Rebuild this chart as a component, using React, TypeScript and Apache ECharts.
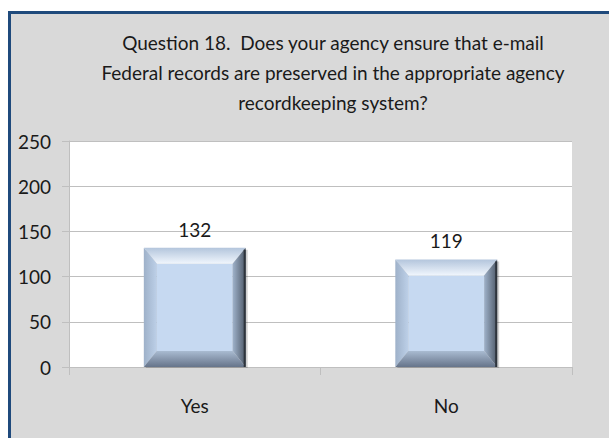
import React, { useEffect, useRef } from "react";
import * as echarts from "echarts";

const titleLines = [
  "Question 18.  Does your agency ensure that e-mail",
  "Federal records are preserved in the appropriate agency",
  "recordkeeping system?",
];
const categories = ["Yes", "No"];
const values = [132, 119];
const yTicks = [0, 50, 100, 150, 200, 250];

const FONT = "Lato, 'Open Sans', sans-serif";

export default function App() {
  const ref = useRef<HTMLDivElement>(null);
  useEffect(() => {
    if (!ref.current) return;
    const chart = echarts.init(ref.current, undefined, { renderer: "svg" });
    const lg = (x2: number, y2: number, c0: string, c1: string) =>
      new echarts.graphic.LinearGradient(0, 0, x2, y2, [
        { offset: 0, color: c0 },
        { offset: 1, color: c1 },
      ]);

    const renderItem = (params: any, api: any) => {
      const idx = api.value(0);
      const v = api.value(1);
      const top = api.coord([idx, v]);
      const base = api.coord([idx, 0]);
      const bw = api.size([1, 0])[0] * 0.405;
      const x0 = top[0] - bw / 2;
      const x1 = top[0] + bw / 2;
      const y0 = top[1];
      const y1 = base[1];
      const bx = 13;
      const by = 16;
      const ix0 = x0 + bx;
      const ix1 = x1 - bx;
      const iy0 = y0 + by;
      const iy1 = y1 - by;
      return {
        type: "group",
        children: [
          {
            type: "rect",
            shape: { x: x0 + 2, y: y0 + 2, width: bw, height: y1 - y0 - 1 },
            style: { fill: "rgba(0,0,0,0.18)" },
          },
          {
            type: "rect",
            shape: { x: ix0, y: iy0, width: ix1 - ix0, height: iy1 - iy0 },
            style: { fill: "#C6D9F1" },
          },
          {
            type: "polygon",
            shape: { points: [[x0, y0], [x1, y0], [ix1, iy0], [ix0, iy0]] },
            style: { fill: lg(0, 1, "#B3C5DC", "#F0F6FD") },
          },
          {
            type: "polygon",
            shape: { points: [[x0, y0], [ix0, iy0], [ix0, iy1], [x0, y1]] },
            style: { fill: lg(1, 0, "#9EB1C9", "#BDD0E8") },
          },
          {
            type: "polygon",
            shape: { points: [[x1, y0], [x1, y1], [ix1, iy1], [ix1, iy0]] },
            style: { fill: lg(1, 0, "#9FB2CA", "#4E5968") },
          },
          {
            type: "polygon",
            shape: { points: [[x0, y1], [x1, y1], [ix1, iy1], [ix0, iy1]] },
            style: { fill: lg(0, 1, "#A9BBD1", "#66748A") },
          },
          {
            type: "rect",
            shape: { x: x1 - 2, y: y0 + 2, width: 2, height: y1 - y0 - 2 },
            style: { fill: "#2E343C" },
          },
          {
            type: "text",
            style: {
              text: String(v),
              x: top[0],
              y: y0 - 9,
              align: "center",
              verticalAlign: "bottom",
              font: `19px ${FONT}`,
              fill: "#1a1a1a",
            },
          },
        ],
      };
    };

    chart.setOption({
      animation: false,
      graphic: [
        {
          type: "rect",
          z: -10,
          shape: { x: 9.5, y: 12.5, width: 700, height: 500 },
          style: { fill: "#D9D9D9", stroke: "#1F4A7C", lineWidth: 3 },
        },
        {
          type: "text",
          style: {
            text: titleLines.join("\n"),
            x: 333,
            y: 27,
            align: "center",
            verticalAlign: "top",
            font: `19px ${FONT}`,
            lineHeight: 30,
            fill: "#1a1a1a",
          },
        },
      ],
      grid: {
        left: 69,
        top: 141,
        right: 37,
        bottom: 71,
        show: true,
        backgroundColor: "#ffffff",
        borderWidth: 0,
      },
      xAxis: {
        type: "category",
        data: categories,
        axisLine: { show: true, lineStyle: { color: "#BFBFBF", width: 1 } },
        axisTick: { show: true, length: 8, lineStyle: { color: "#BFBFBF" } },
        axisLabel: {
          margin: 29,
          fontSize: 19,
          fontFamily: FONT,
          color: "#1a1a1a",
        },
      },
      yAxis: {
        type: "value",
        min: yTicks[0],
        max: yTicks[yTicks.length - 1],
        interval: 50,
        axisLine: { show: true, lineStyle: { color: "#BFBFBF", width: 1 } },
        axisTick: { show: true, length: 7, lineStyle: { color: "#BFBFBF" } },
        splitLine: { show: true, lineStyle: { color: "#BFBFBF", width: 1 } },
        axisLabel: {
          margin: 18,
          fontSize: 19,
          fontFamily: FONT,
          color: "#1a1a1a",
        },
      },
      series: [
        {
          type: "custom",
          renderItem,
          encode: { x: 0, y: 1 },
          data: categories.map((c, i) => [c, values[i]]),
        },
      ],
    });
    return () => chart.dispose();
  }, []);
  return (
    <div
      ref={ref}
      style={{ position: "fixed", left: 0, top: 0, width: 609, height: 438, background: "#fff" }}
    />
  );
}
